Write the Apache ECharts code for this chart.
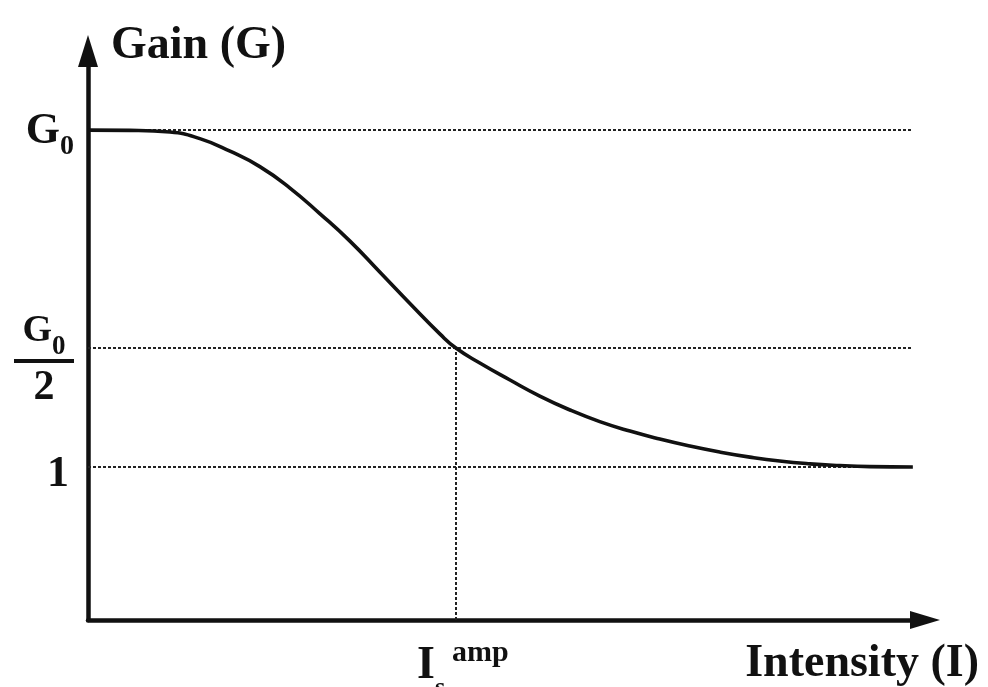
<!DOCTYPE html>
<html>
<head>
<meta charset="utf-8">
<script src="https://cdn.jsdelivr.net/npm/echarts@6/dist/echarts.min.js"></script>
<style>
  html, body { margin: 0; padding: 0; background: #ffffff; }
  #chart { width: 988px; height: 687px; }
</style>
</head>
<body>
<div id="chart"></div>
<script>
// Gain saturation curve: intensity normalised so that I_s^amp = 1.
const intensity = [0, 0.114, 0.223, 0.304, 0.386, 0.467, 0.549, 0.630, 0.712, 0.793,
  0.875, 0.957, 1.000, 1.065, 1.147, 1.228, 1.310, 1.391, 1.473, 1.554, 1.636,
  1.717, 1.799, 1.880, 1.962, 2.043, 2.125, 2.242];
const gain = [3.203, 3.201, 3.190, 3.147, 3.065, 2.964, 2.824, 2.657, 2.477, 2.275,
  2.069, 1.869, 1.778, 1.680, 1.569, 1.464, 1.373, 1.297, 1.235, 1.183, 1.137,
  1.098, 1.065, 1.039, 1.021, 1.010, 1.003, 1.000];

// Reference gain levels and their tick labels (G0, G0/2, 1)
const gainLevels = [3.203, 1.778, 1.0];
const gainLevelLabels = ['G0', 'G0/2', '1'];
// Saturation intensity tick
const intensityTicks = [1.0];
const intensityTickLabels = ['I_s^amp'];
const guideEnd = 2.242;       // where the dotted guides stop
const axisMaxX = 2.275;
const axisMaxY = 3.72;

const SERIF = 'Liberation Serif';
const INK = '#111111';

function gainLabel(v) {
  let i = 0;
  gainLevels.forEach((g, k) => { if (Math.abs(g - v) < Math.abs(gainLevels[i] - v)) i = k; });
  const t = gainLevelLabels[i];
  if (t === 'G0') return '{g|G}{gsub|0}';
  if (t === 'G0/2') return '{fg|G}{fsub|0}\n{bar|}\n{two|2}';
  return '{one|' + t + '}';
}

function intensityLabel(v) {
  const t = intensityTickLabels[intensityTicks.indexOf(v)] || '';
  const m = t.match(/^(\w)_(\w)\^(\w+)$/);
  if (!m) return t;
  return '{I|' + m[1] + '}{s|' + m[2] + '}{amp|' + m[3] + '}';
}

const txt = { fontFamily: SERIF, fontWeight: 'bold', color: INK };

// dotted guides: horizontal ones at each gain level, vertical one at I_s^amp
const satGain = gain[intensity.indexOf(intensityTicks[0])];
const guides = gainLevels.map(g => [{ coord: [0, g] }, { coord: [guideEnd, g] }])
  .concat([[{ coord: [intensityTicks[0], 0] }, { coord: [intensityTicks[0], satGain] }]]);

const chart = echarts.init(document.getElementById('chart'), null, { renderer: 'canvas' });
chart.setOption({
  backgroundColor: '#ffffff',
  animation: false,
  title: [
    { text: 'Gain (G)', left: 106, top: 18,
      textStyle: Object.assign({ fontSize: 46 }, txt) },
    { text: 'Intensity (I)', right: 4, top: 636,
      textStyle: Object.assign({ fontSize: 46 }, txt) }
  ],
  grid: { left: 88, right: 63, top: 51, bottom: 67, containLabel: false, outerBoundsMode: 'none' },
  xAxis: {
    type: 'value', min: 0, max: axisMaxX,
    splitLine: { show: false },
    axisTick: { show: false },
    axisLine: { symbol: ['none', 'triangle'], symbolSize: [18, 30],
      lineStyle: { color: INK, width: 4.5 } },
    axisLabel: {
      customValues: intensityTicks,
      formatter: intensityLabel,
      margin: 10,
      rich: {
        I: Object.assign({ fontSize: 46, verticalAlign: 'top', padding: [13.5, 0, 0, 14] }, txt),
        s: Object.assign({ fontSize: 26, verticalAlign: 'top', padding: [45, 0, 0, 0] }, txt),
        amp: Object.assign({ fontSize: 30, verticalAlign: 'top', padding: [8, 0, 0, 7] }, txt)
      }
    }
  },
  yAxis: {
    type: 'value', min: 0, max: axisMaxY,
    splitLine: { show: false },
    axisTick: { show: false },
    axisLine: { symbol: ['none', 'triangle'], symbolSize: [20, 32],
      lineStyle: { color: INK, width: 4.5 } },
    axisLabel: {
      customValues: gainLevels,
      formatter: gainLabel,
      margin: 14,
      rich: {
        g: Object.assign({ fontSize: 44, verticalAlign: 'top', padding: [10, 0, 0, 0] }, txt),
        gsub: Object.assign({ fontSize: 28, verticalAlign: 'top', padding: [33, 0, 0, 0] }, txt),
        fg: Object.assign({ fontSize: 38, verticalAlign: 'top', align: 'center', padding: [30.5, 0, 0, 0] }, txt),
        fsub: Object.assign({ fontSize: 27, verticalAlign: 'top', align: 'center', padding: [51, 0, 0, 0], lineHeight: 77 }, txt),
        bar: { width: 60, height: 4, backgroundColor: INK, align: 'center' },
        two: Object.assign({ fontSize: 42, align: 'center', lineHeight: 51 }, txt),
        one: Object.assign({ fontSize: 44, padding: [16, 5, 0, 0] }, txt)
      }
    }
  },
  series: [{
    type: 'line',
    name: 'Gain',
    data: intensity.map((x, i) => [x, gain[i]]),
    showSymbol: false,
    smooth: 0.5,
    lineStyle: { color: INK, width: 3.6 },
    z: 5,
    markLine: {
      silent: true,
      symbol: ['none', 'none'],
      label: { show: false },
      lineStyle: { color: '#222222', width: 2, type: [3, 2] },
      data: guides
    }
  }]
});
</script>
</body>
</html>
